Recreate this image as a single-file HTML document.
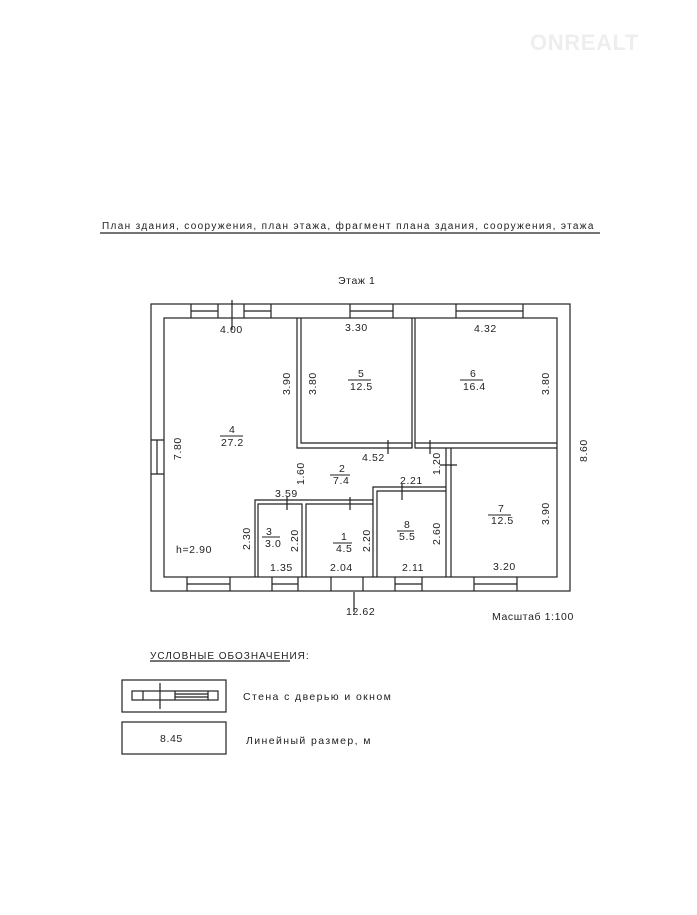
<!DOCTYPE html>
<html><head><meta charset="utf-8"><style>
body{margin:0;background:#fff}
svg text{font-family:"Liberation Sans","DejaVu Sans",sans-serif;fill:#222;letter-spacing:0.6px}
</style></head><body>
<svg width="697" height="910" viewBox="0 0 697 910" xmlns="http://www.w3.org/2000/svg">
<g stroke="#222" stroke-width="1.2" fill="none">
<line x1="100" y1="233" x2="600" y2="233"/>
<rect x="151" y="304" width="419" height="287"/>
<rect x="164" y="318" width="393" height="259"/>
<path d="M297 318V448H412V318M301 318V443H412M415 318V448H557M415 443H557"/>
<path d="M412 443V448"/>
<path d="M446 448V577M451 448V577"/>
<path d="M255 577V500H373M258 577V504H302V577M306 577V504H373"/>
<path d="M373 577V487H446M377 577V491H446"/>
<path d="M191 304V318M218 304V318M191 311H218M244 304V318M271 304V318M244 311H271M350 304V318M393 304V318M350 311H393M456 304V318M523 304V318M456 311H523"/>
<path d="M187 577V591M230 577V591M187 584H230M272 577V591M298 577V591M272 584H298M331 577V591M363 577V591M395 577V591M422 577V591M395 584H422M474 577V591M517 577V591M474 584H517"/>
<path d="M151 440H164M151 474H164M157 440V474"/>
<path d="M232 300V330M354 592V612M388 440V454M430 440V454M440 465H457M402 484V500M287 497V510M350 497V510"/>
<line x1="150" y1="661" x2="290" y2="661"/>
<rect x="122" y="680" width="104" height="32"/>
<rect x="132" y="691" width="86" height="9"/>
<path d="M143 691V700M175 691V700M208 691V700M175 694H208M175 697H208M160 683V709"/>
<rect x="122" y="722" width="104" height="32"/>
</g>
<g font-size="10.5">
<text x="102" y="229" font-size="10" style="letter-spacing:1.35px">План здания, сооружения, план этажа, фрагмент плана здания, сооружения, этажа</text>
<text x="338" y="284">Этаж 1</text>
<text x="220" y="333">4.00</text>
<text x="345" y="331">3.30</text>
<text x="474" y="332">4.32</text>
<text x="358" y="377">5</text><text x="350" y="390">12.5</text>
<text x="470" y="377">6</text><text x="463" y="390">16.4</text>
<text x="229" y="433">4</text><text x="221" y="446">27.2</text>
<text x="339" y="472">2</text><text x="333" y="484">7.4</text>
<text x="498" y="512">7</text><text x="491" y="524">12.5</text>
<text x="266" y="535">3</text><text x="265" y="547">3.0</text>
<text x="341" y="540">1</text><text x="336" y="552">4.5</text>
<text x="404" y="528">8</text><text x="399" y="540">5.5</text>
<text x="362" y="461">4.52</text>
<text x="275" y="497">3.59</text>
<text x="400" y="484">2.21</text>
<text x="176" y="553">h=2.90</text>
<text x="270" y="571">1.35</text>
<text x="330" y="571">2.04</text>
<text x="402" y="571">2.11</text>
<text x="493" y="570">3.20</text>
<text x="346" y="615">12.62</text>
<text x="492" y="620">Масштаб 1:100</text>
<line x1="348" y1="380" x2="371" y2="380" stroke="#222"/>
<line x1="460" y1="380" x2="483" y2="380" stroke="#222"/>
<line x1="220" y1="436" x2="243" y2="436" stroke="#222"/>
<line x1="330" y1="475" x2="350" y2="475" stroke="#222"/>
<line x1="488" y1="515" x2="511" y2="515" stroke="#222"/>
<line x1="262" y1="537" x2="280" y2="537" stroke="#222"/>
<line x1="333" y1="543" x2="352" y2="543" stroke="#222"/>
<line x1="397" y1="531" x2="414" y2="531" stroke="#222"/>
<text transform="translate(290,395) rotate(-90)">3.90</text>
<text transform="translate(316,395) rotate(-90)">3.80</text>
<text transform="translate(549,395) rotate(-90)">3.80</text>
<text transform="translate(181,460) rotate(-90)">7.80</text>
<text transform="translate(587,462) rotate(-90)">8.60</text>
<text transform="translate(304,485) rotate(-90)">1.60</text>
<text transform="translate(440,475) rotate(-90)">1.20</text>
<text transform="translate(549,525) rotate(-90)">3.90</text>
<text transform="translate(440,545) rotate(-90)">2.60</text>
<text transform="translate(250,550) rotate(-90)">2.30</text>
<text transform="translate(298,552) rotate(-90)">2.20</text>
<text transform="translate(370,552) rotate(-90)">2.20</text>
<text x="150" y="659" font-size="10" style="letter-spacing:1px">УСЛОВНЫЕ ОБОЗНАЧЕНИЯ:</text>
<text x="243" y="700" style="letter-spacing:1.4px">Стена с дверью и окном</text>
<text x="160" y="742">8.45</text>
<text x="246" y="744" style="letter-spacing:1.4px">Линейный размер, м</text>
</g>
<text x="530" y="50" font-size="22" font-weight="bold" style="fill:#eee">ONREALT</text>
</svg>
</body></html>
